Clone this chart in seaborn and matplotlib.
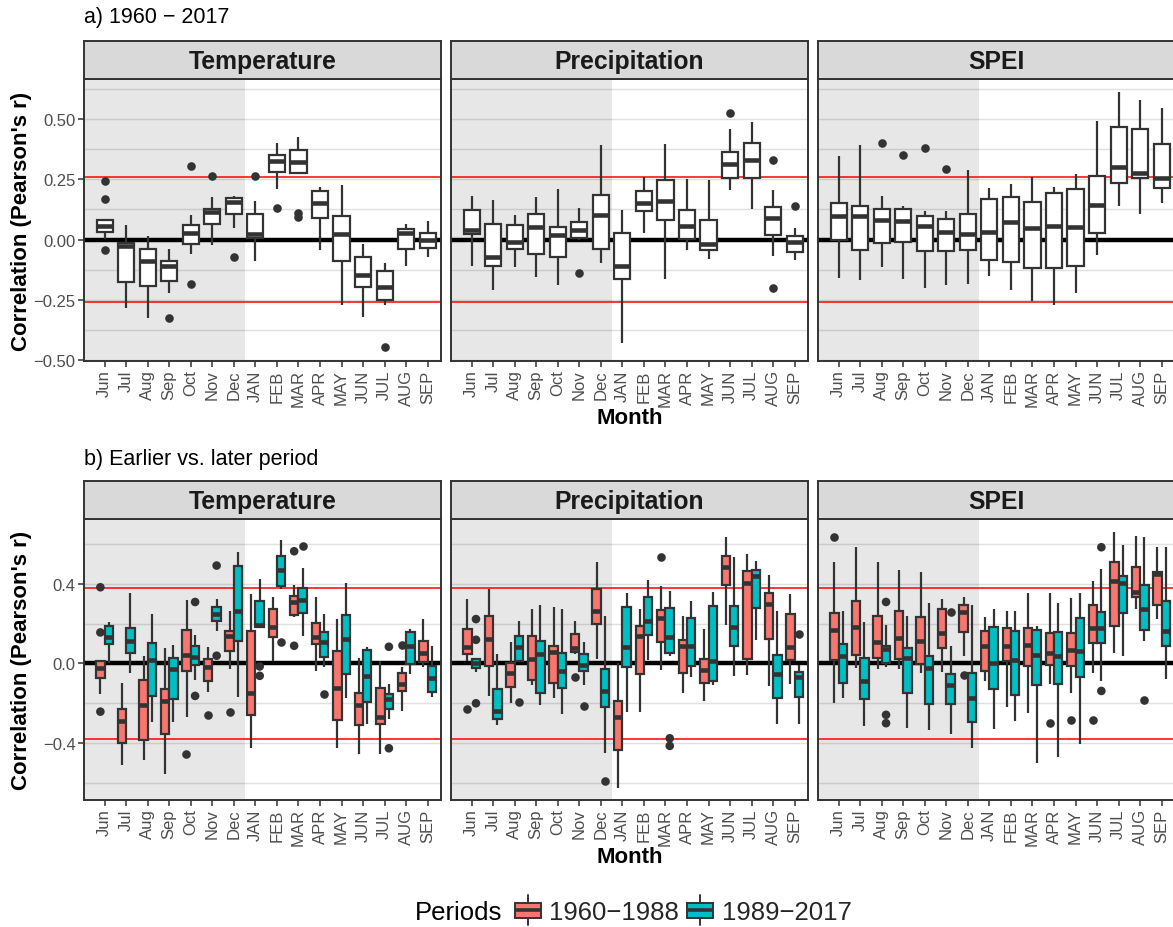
import numpy as np
import pandas as pd
import matplotlib
matplotlib.use("Agg")
import matplotlib.pyplot as plt
from matplotlib.ticker import FixedLocator, FuncFormatter
from matplotlib.legend_handler import HandlerBase
from matplotlib.patches import Rectangle, Patch
from matplotlib.lines import Line2D
import seaborn as sns

# ---------------------------------------------------------------- data
months = ["Jun", "Jul", "Aug", "Sep", "Oct", "Nov", "Dec",
          "JAN", "FEB", "MAR", "APR", "MAY", "JUN", "JUL", "AUG", "SEP"]
climate_vars = ["Temperature", "Precipitation", "SPEI"]
periods = ["1960\u22121988", "1989\u22122017"]

# Box statistics per month: (lower whisker, Q1, median, Q3, upper whisker)
# a) full period 1960-2017
temp_all = [(0.003, 0.032, 0.055, 0.083, 0.085), (-0.285, -0.176, -0.028, -0.012, 0.062),
            (-0.324, -0.193, -0.088, -0.039, 0.015), (-0.220, -0.171, -0.109, -0.087, -0.037),
            (-0.061, -0.017, 0.029, 0.059, 0.100), (-0.023, 0.066, 0.114, 0.125, 0.176),
            (0.048, 0.106, 0.156, 0.172, 0.180), (-0.088, 0.007, 0.022, 0.107, 0.158),
            (0.211, 0.280, 0.324, 0.351, 0.398), (0.270, 0.274, 0.321, 0.373, 0.424),
            (-0.041, 0.088, 0.153, 0.201, 0.218), (-0.271, -0.087, 0.023, 0.099, 0.225),
            (-0.320, -0.198, -0.145, -0.073, -0.019), (-0.269, -0.248, -0.196, -0.128, -0.095),
            (-0.110, -0.040, 0.029, 0.043, 0.063), (-0.072, -0.036, -0.001, 0.029, 0.076)]
prec_all = [(-0.110, 0.023, 0.039, 0.124, 0.182), (-0.209, -0.109, -0.073, 0.063, 0.165),
            (-0.114, -0.040, -0.010, 0.059, 0.102), (-0.153, -0.059, 0.054, 0.106, 0.178),
            (-0.187, -0.073, 0.018, 0.051, 0.208), (0.000, 0.007, 0.041, 0.073, 0.131),
            (-0.095, -0.040, 0.101, 0.183, 0.390), (-0.430, -0.164, -0.110, 0.029, 0.121),
            (0.028, 0.118, 0.153, 0.202, 0.259), (-0.161, 0.080, 0.158, 0.248, 0.394),
            (-0.045, 0.004, 0.058, 0.123, 0.249), (-0.079, -0.044, -0.019, 0.080, 0.245),
            (0.207, 0.255, 0.313, 0.362, 0.459), (0.128, 0.255, 0.331, 0.402, 0.489),
            (-0.067, 0.018, 0.090, 0.136, 0.207), (-0.083, -0.052, -0.010, 0.017, 0.048)]
spei_all = [(-0.157, 0.000, 0.096, 0.153, 0.348), (-0.169, -0.041, 0.096, 0.140, 0.390),
            (-0.114, -0.012, 0.081, 0.128, 0.182), (-0.161, -0.008, 0.076, 0.128, 0.138),
            (-0.200, -0.048, 0.056, 0.098, 0.120), (-0.189, -0.048, 0.032, 0.084, 0.117),
            (-0.183, -0.044, 0.023, 0.106, 0.288), (-0.152, -0.085, 0.032, 0.169, 0.213),
            (-0.208, -0.094, 0.072, 0.178, 0.231), (-0.255, -0.117, 0.047, 0.157, 0.258),
            (-0.271, -0.117, 0.056, 0.191, 0.216), (-0.219, -0.110, 0.051, 0.208, 0.270),
            (-0.062, 0.029, 0.142, 0.263, 0.492), (0.138, 0.234, 0.300, 0.468, 0.610),
            (0.107, 0.256, 0.277, 0.459, 0.577), (0.152, 0.213, 0.256, 0.395, 0.544)]

# Outlying sites (month, r)
temp_all_out = [("Jun", 0.244), ("Jun", 0.167), ("Jun", -0.045), ("Sep", -0.326),
                ("Oct", 0.304), ("Oct", -0.183), ("Nov", 0.263), ("Dec", -0.070),
                ("JAN", 0.263), ("FEB", 0.129), ("MAR", 0.110), ("MAR", 0.095),
                ("JUL", -0.445)]
prec_all_out = [("Nov", -0.140), ("JUN", 0.525), ("AUG", 0.329), ("AUG", -0.202),
                ("SEP", 0.140)]
spei_all_out = [("Aug", 0.399), ("Sep", 0.351), ("Oct", 0.379), ("Nov", 0.291)]

# b) earlier (1960-1988) vs. later (1989-2017) period
temp_early = [(-0.154, -0.074, -0.023, 0.013, 0.013), (-0.512, -0.398, -0.289, -0.227, -0.096),
              (-0.487, -0.386, -0.208, -0.081, 0.039), (-0.554, -0.356, -0.191, -0.128, 0.076),
              (-0.268, -0.037, 0.042, 0.166, 0.319), (-0.143, -0.087, -0.017, 0.025, 0.084),
              (-0.030, 0.064, 0.139, 0.161, 0.262), (-0.424, -0.257, -0.146, 0.161, 0.347),
              (0.013, 0.134, 0.185, 0.275, 0.336), (0.232, 0.245, 0.309, 0.339, 0.396),
              (-0.037, 0.097, 0.134, 0.205, 0.332), (-0.423, -0.282, -0.121, 0.064, 0.221),
              (-0.456, -0.307, -0.210, -0.146, 0.027), (-0.453, -0.302, -0.267, -0.124, 0.013),
              (-0.238, -0.138, -0.104, -0.047, -0.017), (-0.017, 0.008, 0.055, 0.114, 0.221)]
temp_late = [(0.000, 0.097, 0.131, 0.190, 0.210), (-0.050, 0.055, 0.114, 0.178, 0.356),
             (-0.294, -0.164, 0.017, 0.101, 0.248), (-0.294, -0.176, -0.030, 0.030, 0.092),
             (-0.081, -0.008, 0.034, 0.089, 0.143), (0.164, 0.215, 0.248, 0.282, 0.324),
             (-0.169, 0.114, 0.262, 0.490, 0.559), (0.181, 0.181, 0.195, 0.315, 0.424),
             (0.374, 0.391, 0.470, 0.540, 0.621), (0.138, 0.253, 0.320, 0.379, 0.478),
             (-0.020, 0.035, 0.106, 0.156, 0.248), (-0.174, -0.054, 0.122, 0.245, 0.403),
             (-0.305, -0.193, -0.065, 0.067, 0.084), (-0.279, -0.228, -0.180, -0.151, -0.104),
             (-0.054, -0.003, 0.089, 0.156, 0.173), (-0.168, -0.141, -0.074, -0.013, 0.089)]
prec_early = [(0.013, 0.047, 0.081, 0.171, 0.326), (-0.164, -0.012, 0.122, 0.240, 0.376),
              (-0.201, -0.116, -0.050, 0.002, 0.107), (-0.107, -0.082, 0.022, 0.136, 0.273),
              (-0.171, -0.096, 0.060, 0.089, 0.285), (0.050, 0.060, 0.076, 0.148, 0.211),
              (0.022, 0.198, 0.265, 0.376, 0.508), (-0.624, -0.436, -0.268, -0.188, 0.000),
              (-0.242, -0.054, 0.136, 0.186, 0.273), (-0.034, 0.109, 0.228, 0.270, 0.389),
              (-0.146, -0.049, 0.086, 0.119, 0.238), (-0.188, -0.096, -0.034, 0.022, 0.173),
              (0.193, 0.396, 0.487, 0.542, 0.634), (-0.057, 0.022, 0.403, 0.463, 0.550),
              (-0.112, 0.122, 0.299, 0.356, 0.446), (-0.104, 0.018, 0.084, 0.248, 0.349)]
prec_late = [(-0.045, -0.023, 0.000, 0.025, 0.025), (-0.309, -0.280, -0.238, -0.129, 0.050),
             (0.013, 0.013, 0.084, 0.136, 0.211), (-0.208, -0.146, 0.047, 0.114, 0.295),
             (-0.255, -0.124, -0.037, 0.052, 0.273), (-0.107, -0.037, -0.007, 0.047, 0.106),
             (-0.451, -0.218, -0.138, -0.030, 0.237), (-0.242, -0.020, 0.081, 0.282, 0.352),
             (0.017, 0.144, 0.211, 0.334, 0.419), (0.040, 0.052, 0.131, 0.280, 0.366),
             (-0.070, -0.012, 0.086, 0.228, 0.315), (-0.107, -0.087, 0.013, 0.287, 0.357),
             (-0.062, 0.086, 0.181, 0.287, 0.537), (0.117, 0.279, 0.440, 0.470, 0.513),
             (-0.302, -0.173, -0.055, 0.044, 0.265), (-0.302, -0.168, -0.070, -0.045, -0.007)]
spei_early = [(-0.198, 0.017, 0.168, 0.252, 0.508), (-0.023, 0.042, 0.185, 0.312, 0.584),
              (-0.030, 0.030, 0.109, 0.240, 0.508), (-0.030, 0.025, 0.126, 0.265, 0.471),
              (-0.050, -0.003, 0.114, 0.235, 0.461), (-0.045, 0.076, 0.153, 0.275, 0.326),
              (0.039, 0.156, 0.260, 0.292, 0.336), (-0.087, -0.037, 0.089, 0.161, 0.232),
              (-0.221, 0.013, 0.086, 0.176, 0.265), (-0.247, -0.012, 0.092, 0.178, 0.356),
              (-0.101, -0.008, 0.052, 0.151, 0.356), (-0.149, -0.015, 0.067, 0.151, 0.329),
              (-0.050, 0.101, 0.176, 0.292, 0.413), (0.055, 0.186, 0.416, 0.508, 0.659),
              (0.273, 0.332, 0.357, 0.483, 0.641), (0.221, 0.294, 0.448, 0.458, 0.587)]
spei_late = [(-0.174, -0.096, 0.039, 0.097, 0.262), (-0.315, -0.176, -0.087, 0.027, 0.206),
             (-0.017, 0.000, 0.072, 0.087, 0.191), (-0.326, -0.146, 0.030, 0.077, 0.238),
             (-0.332, -0.205, -0.025, 0.040, 0.305), (-0.356, -0.205, -0.107, -0.054, 0.089),
             (-0.423, -0.292, -0.171, -0.049, 0.295), (-0.331, -0.129, 0.002, 0.181, 0.272),
             (-0.289, -0.156, 0.018, 0.164, 0.262), (-0.498, -0.109, 0.042, 0.169, 0.188),
             (-0.470, -0.104, 0.039, 0.156, 0.304), (-0.406, -0.067, 0.064, 0.228, 0.356),
             (-0.087, 0.101, 0.176, 0.258, 0.475), (0.039, 0.252, 0.403, 0.441, 0.597),
             (0.111, 0.168, 0.273, 0.394, 0.638), (-0.079, 0.089, 0.164, 0.312, 0.584)]

temp_early_out = [("Jun", 0.383), ("Jun", 0.156), ("Jun", -0.242), ("Oct", -0.453),
                  ("Nov", -0.258), ("Dec", -0.242), ("MAR", 0.564), ("MAR", 0.089),
                  ("AUG", 0.094)]
temp_late_out = [("Oct", 0.309), ("Oct", -0.163), ("Nov", 0.492), ("Nov", 0.039),
                 ("JAN", -0.015), ("JAN", -0.062), ("FEB", 0.106), ("MAR", 0.589),
                 ("APR", -0.154), ("JUL", 0.084), ("JUL", -0.426)]
prec_early_out = [("Jun", -0.230), ("Nov", -0.070), ("MAR", 0.537)]
prec_late_out = [("Jun", 0.223), ("Jun", 0.119), ("Jun", -0.200), ("Aug", -0.196),
                 ("Nov", -0.213), ("Dec", -0.591), ("MAR", -0.376), ("MAR", -0.414),
                 ("SEP", 0.148)]
spei_early_out = [("Jun", 0.638), ("Dec", -0.057), ("APR", -0.297), ("MAY", -0.285),
                  ("JUN", -0.284)]
spei_late_out = [("Aug", 0.309), ("Aug", -0.258), ("Aug", -0.300), ("Nov", 0.260),
                 ("JUN", 0.584), ("JUN", -0.138), ("AUG", -0.185)]

crit_full = 0.259    # |r| needed for p < 0.05, 1960-2017
crit_half = 0.380    # |r| needed for p < 0.05, 29-year halves

# ---------------------------------------------------------------- tables
def box_rows(var, period, stats):
    rows = []
    for m, five in zip(months, stats):
        for v in five:
            rows.append((var, period, m, v))
    return rows

def out_rows(var, period, pts):
    return [(var, period, m, v) for m, v in pts]

cols = ["variable", "period", "month", "r"]
full_boxes = pd.DataFrame(box_rows("Temperature", "all", temp_all)
                          + box_rows("Precipitation", "all", prec_all)
                          + box_rows("SPEI", "all", spei_all), columns=cols)
full_out = pd.DataFrame(out_rows("Temperature", "all", temp_all_out)
                        + out_rows("Precipitation", "all", prec_all_out)
                        + out_rows("SPEI", "all", spei_all_out), columns=cols)
split_boxes = pd.DataFrame(box_rows("Temperature", periods[0], temp_early)
                           + box_rows("Temperature", periods[1], temp_late)
                           + box_rows("Precipitation", periods[0], prec_early)
                           + box_rows("Precipitation", periods[1], prec_late)
                           + box_rows("SPEI", periods[0], spei_early)
                           + box_rows("SPEI", periods[1], spei_late), columns=cols)
split_out = pd.DataFrame(out_rows("Temperature", periods[0], temp_early_out)
                         + out_rows("Temperature", periods[1], temp_late_out)
                         + out_rows("Precipitation", periods[0], prec_early_out)
                         + out_rows("Precipitation", periods[1], prec_late_out)
                         + out_rows("SPEI", periods[0], spei_early_out)
                         + out_rows("SPEI", periods[1], spei_late_out), columns=cols)

# ---------------------------------------------------------------- style
sns.set_theme(style="white")
plt.rcParams["font.family"] = ["Liberation Sans", "DejaVu Sans"]
plt.rcParams["axes.unicode_minus"] = True

RED, TEAL = "#F8766D", "#00BFC4"
INK = "#333333"
TICK_GREY = "#4D4D4D"
FS_TICK = 12
FS_STRIP = 17.8
FS_AXIS = 16
FS_TITLE = 15.5
FS_LEGEND = 18.5

W, H = 1173, 928
fig = plt.figure(figsize=(W / 100, H / 100), dpi=100)
fig.patch.set_facecolor("white")


def px_axes(left, top, width, height):
    return fig.add_axes([left / W, 1 - (top + height) / H, width / W, height / H])


XLIM = (-0.96, 15.62)
lefts = [84, 451, 818]
PW = 357

box_kws = dict(whis=(0, 100), showcaps=False, showfliers=False,
               linecolor=INK, linewidth=1.6, saturation=1,
               medianprops=dict(color=INK, linewidth=3.3, solid_capstyle="butt"))


def minus_fmt(fmt):
    return FuncFormatter(lambda v, p: fmt.format(v).replace("-", "\u2212"))


def style_panel(ax, ylim, major, minor, fmt, show_y, crit):
    ax.set_xlim(*XLIM)
    ax.set_ylim(*ylim)
    ax.set_axisbelow(True)
    ax.axvspan(XLIM[0], 6.5, color="black", alpha=0.095, lw=0, zorder=0.8)
    ax.axhline(0, color="black", lw=3.2, zorder=0.9)
    for c in (crit, -crit):
        ax.axhline(c, color="red", lw=1.1, zorder=0.9)
    ax.yaxis.set_major_locator(FixedLocator(major))
    ax.yaxis.set_minor_locator(FixedLocator(minor))
    ax.yaxis.set_major_formatter(minus_fmt(fmt))
    ax.grid(False)
    ax.grid(True, axis="y", which="both", color="#E0E0E0", lw=1.0)
    ax.set_xticks(range(len(months)))
    ax.set_xticklabels(months, rotation=90, fontsize=FS_TICK, color=TICK_GREY)
    ax.tick_params(axis="x", length=4, width=1.1, color=INK, pad=2, bottom=True)
    ax.tick_params(axis="y", which="major", length=4 if show_y else 0, width=1.1,
                   color=INK, pad=2, labelsize=FS_TICK, labelcolor=TICK_GREY,
                   left=show_y, labelleft=show_y)
    ax.tick_params(axis="y", which="minor", length=0, left=False)
    ax.set_xlabel("")
    ax.set_ylabel("")
    for s in ax.spines.values():
        s.set_color(INK)
        s.set_linewidth(1.4)
        s.set_visible(True)
        s.set_zorder(5)


def strip(left, top, label):
    sa = px_axes(left, top, PW, 38)
    sa.set_facecolor("#D9D9D9")
    sa.set_xticks([])
    sa.set_yticks([])
    for s in sa.spines.values():
        s.set_color(INK)
        s.set_linewidth(1.4)
    sa.text(0.5, 0.47, label, transform=sa.transAxes, ha="center", va="center",
            fontsize=FS_STRIP, fontweight="bold", color="#1A1A1A")


# a) full period
for i, var in enumerate(climate_vars):
    ax = px_axes(lefts[i], 80, PW, 282)
    sns.boxplot(data=full_boxes[full_boxes.variable == var], x="month", y="r",
                order=months, color="white", width=0.75, ax=ax, **box_kws)
    sns.stripplot(data=full_out[full_out.variable == var], x="month", y="r",
                  order=months, color=INK, jitter=False, size=6.2, ax=ax, zorder=4)
    style_panel(ax, (-0.5025, 0.665), [-0.5, -0.25, 0, 0.25, 0.5],
                [-0.375, -0.125, 0.125, 0.375, 0.625], "{:.2f}", i == 0, crit_full)
    strip(lefts[i], 42, var)

# b) earlier vs. later
for i, var in enumerate(climate_vars):
    ax = px_axes(lefts[i], 520, PW, 281)
    sns.boxplot(data=split_boxes[split_boxes.variable == var], x="month", y="r",
                hue="period", order=months, hue_order=periods, palette=[RED, TEAL],
                width=0.78, gap=0, dodge=True, legend=False, ax=ax, **box_kws)
    sns.stripplot(data=split_out[split_out.variable == var], x="month", y="r",
                  hue="period", order=months, hue_order=periods, palette=[INK, INK],
                  dodge=True, jitter=False, size=6.2, legend=False, ax=ax, zorder=4)
    style_panel(ax, (-0.686, 0.726), [-0.4, 0, 0.4], [-0.6, -0.2, 0.2, 0.6],
                "{:.1f}", i == 0, crit_half)
    strip(lefts[i], 482, var)

# ---------------------------------------------------------------- annotations
def ftext(x, y, s, **kw):
    fig.text(x / W, 1 - y / H, s, **kw)

ftext(84, 18, "a) 1960 \u2212 2017", ha="left", va="center", fontsize=FS_TITLE, color="black")
ftext(84, 460, "b) Earlier vs. later period", ha="left", va="center", fontsize=FS_TITLE,
      color="black")
for yc in (221, 660.5):
    ftext(22, yc, "Correlation (Pearson's r)", rotation=90, ha="center", va="center",
          fontsize=FS_AXIS, fontweight="bold", color="black")
for yc in (418, 858):
    ftext(629.5, yc, "Month", ha="center", va="center", fontsize=FS_AXIS,
          fontweight="bold", color="black")


class BoxKey(HandlerBase):
    def create_artists(self, legend, orig_handle, xdescent, ydescent, width, height,
                       fontsize, trans):
        cx = width / 2 - xdescent
        bw = width * 0.7
        y0 = -ydescent
        whisk = Line2D([cx, cx], [y0 - height * 0.3, y0 + height * 1.3], color=INK,
                       lw=1.4, transform=trans)
        box = Rectangle((cx - bw / 2, y0 + height * 0.1), bw, height * 0.8,
                        facecolor=orig_handle.get_facecolor(), edgecolor=INK, lw=1.4,
                        transform=trans)
        med = Line2D([cx - bw / 2, cx + bw / 2], [y0 + height * 0.5] * 2, color=INK,
                     lw=2.6, solid_capstyle="butt", transform=trans)
        return [whisk, box, med]


ftext(415, 913, "Periods", ha="left", va="center", fontsize=FS_LEGEND, color="black")
handles = [Patch(facecolor=RED), Patch(facecolor=TEAL)]
fig.legend(handles, periods, loc="center left", bbox_to_anchor=(509 / W, 1 - 913 / H),
           ncol=2, frameon=False, fontsize=FS_LEGEND, handler_map={Patch: BoxKey()},
           handlelength=1.45, handleheight=0.75, handletextpad=0.12, columnspacing=0.1,
           borderpad=0, borderaxespad=0)

fig.savefig("out.png", dpi=100, facecolor="white")
